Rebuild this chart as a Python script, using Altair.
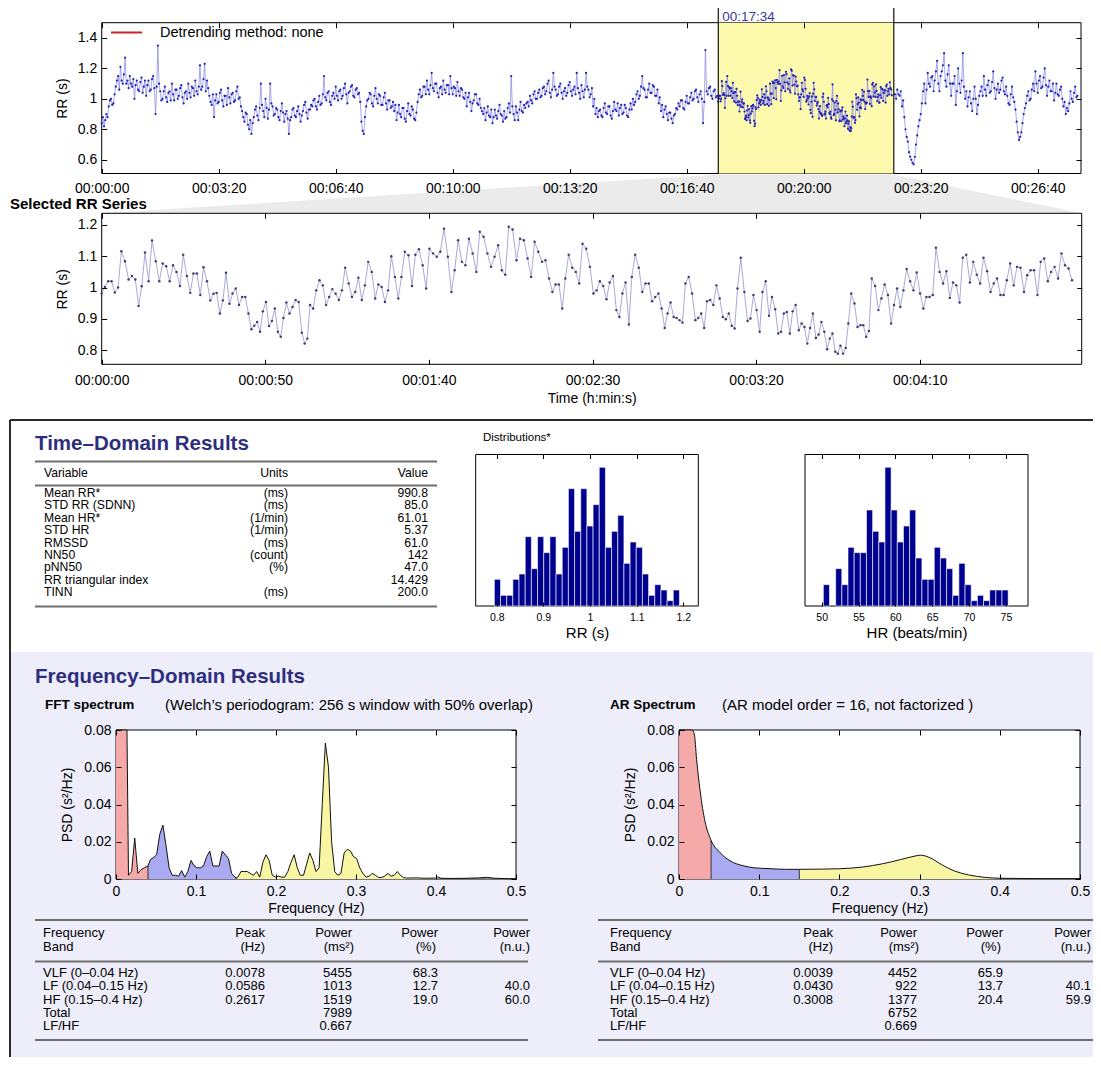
import altair as alt
import pandas as pd
import numpy as np

W, H, M = 1085, 1049, 8
FONT = "Liberation Sans"

# ---------------- DATA ----------------
# whole recording, RR (s) read every 2 s before / after the selected window
top_step = 2
top_rr_before = [
    0.84, 0.88, 0.82, 0.86, 0.90, 0.88, 0.95, 0.99, 1.00, 0.96, 0.97, 1.03,
    1.08, 1.12, 1.15, 1.06, 1.21, 1.12, 1.10, 1.16, 1.27, 1.10,
    1.12, 1.07, 1.15, 1.10, 1.08, 1.13, 1.00, 1.09, 1.12, 1.06,
    1.05, 1.11, 1.14, 1.04, 1.08, 1.12, 1.02, 1.09, 1.12, 1.05, 1.06, 1.13, 1.15, 1.07,
    0.90, 1.08, 1.35, 1.10, 1.05, 0.99,
    1.00, 1.05, 1.08, 1.01, 0.98, 1.04, 1.05, 0.99, 1.10, 1.03, 0.99, 1.06, 1.06, 1.00, 1.02, 1.07,
    1.09, 1.01, 0.97, 1.04, 1.05, 1.00, 1.10, 1.04, 1.01, 1.08, 1.07, 1.02, 1.12, 1.05, 1.03, 1.08,
    1.22, 1.06, 1.08, 1.13, 1.23, 1.05, 1.12, 1.07,
    1.02, 0.98, 0.96, 1.03, 0.88, 0.99, 1.03, 0.97, 0.98, 1.04, 1.06, 0.99, 0.95, 1.02,
    1.02, 0.96, 1.07, 1.01, 0.97, 1.03, 1.04, 0.98, 0.99, 1.05, 1.08, 1.00, 1.01, 0.95,
    0.92, 0.88, 0.85, 0.91, 0.90, 0.83, 0.80, 0.86, 0.77, 0.84,
    0.88, 0.93, 0.95, 0.89, 0.86, 0.94, 1.10, 0.96, 0.92, 0.88, 1.00, 0.94, 0.87, 0.93, 1.10, 0.97, 0.95, 0.89, 0.90, 0.94,
    0.93, 0.88, 0.86, 0.92, 0.97, 0.91, 0.85, 0.90, 0.92, 0.87, 0.77, 0.86, 0.88, 0.93, 0.94, 0.89,
    0.88, 0.92, 0.95, 0.90, 0.85, 0.89, 0.92, 0.96, 0.98, 0.91, 0.87, 0.93, 0.93, 0.96,
    0.95, 0.99, 1.00, 0.95, 0.93, 0.98, 1.02, 0.96, 0.97, 1.03, 1.15, 1.01, 0.99, 1.04, 1.05, 0.98, 0.96, 1.02, 1.04, 1.00,
    1.08, 1.02, 0.99, 1.05, 1.06, 1.00, 1.02, 1.07, 1.10, 1.03, 0.97, 1.04, 1.05, 1.08, 1.09, 1.02, 1.01, 1.06, 1.07, 1.03,
    1.04, 0.98, 0.85, 0.79, 0.77, 0.88, 0.95, 0.99, 1.00, 1.04,
    1.03, 0.97, 0.95, 1.02, 1.07, 1.00, 0.97, 1.03, 1.02, 0.96,
    0.96, 1.01, 1.04, 0.97, 0.93, 0.99, 0.99, 0.94, 0.95, 0.98,
    0.92, 0.96, 0.86, 0.91, 0.96, 0.90, 0.88, 0.94, 0.94, 0.87, 0.85, 0.92, 0.97, 0.90, 0.89, 0.95, 0.93, 0.87, 0.86, 0.91,
    0.98, 1.03, 1.06, 1.01, 1.02, 1.08,
    1.08, 1.03, 1.12, 1.06, 1.03, 1.09, 1.17, 1.07, 1.05, 1.10, 1.10, 1.04, 1.01, 1.07, 1.08, 1.03, 1.12,
    1.06, 1.04, 1.09, 1.09, 1.03, 1.15, 1.07, 1.03, 1.08, 1.07, 1.02, 1.11, 1.05, 1.02, 1.07, 1.06, 1.01,
    1.00, 1.04, 0.95, 1.01, 1.04, 0.98, 0.92, 0.97, 0.99, 1.03, 1.03, 0.97, 0.96, 1.00, 0.94, 0.92,
    0.90, 0.94, 0.86, 0.91, 0.95, 0.89, 0.88, 0.93, 0.84, 0.88, 0.93, 0.89, 0.87, 0.92, 0.96, 0.90, 0.89, 0.85,
    0.92, 0.87, 0.88, 0.94, 0.97, 0.91, 1.15, 0.95, 0.90, 0.86, 0.95, 0.91, 0.86, 0.93, 0.98, 0.92, 0.91, 0.96, 0.94, 0.97,
    0.98, 0.95, 1.02, 0.99, 0.97, 1.03, 1.05, 1.00, 1.00, 1.04, 1.06, 1.01, 1.02, 1.07, 1.08, 1.03,
    1.05, 1.10, 1.12, 1.04, 1.01, 1.06, 1.17, 1.08, 1.06, 1.02, 1.03, 1.08, 1.10, 1.04, 1.00, 1.05, 1.07, 1.02, 1.04, 1.09,
    1.11, 1.05, 1.02, 1.06, 1.08, 1.03, 1.17, 1.07, 1.04, 1.00, 1.09, 1.05, 1.01, 1.06, 1.17, 1.08, 1.06, 1.01, 1.03, 1.07,
    0.95, 1.00, 0.90, 0.94, 0.88, 0.92,
    0.93, 0.89, 0.88, 0.94, 0.97, 0.91, 0.90, 0.95, 0.95, 0.89, 0.87, 0.92, 0.98, 0.93,
    0.92, 0.97, 0.89, 0.94, 0.96, 0.90, 0.91, 0.96, 0.94, 0.89, 0.88, 0.93, 0.97, 0.93,
    1.00, 0.96, 0.98, 1.03, 1.05, 1.00, 1.02, 1.08, 1.15, 1.07, 1.06, 1.01, 1.01, 1.06, 1.10, 1.04, 1.04, 1.09, 1.08, 1.02, 1.02, 1.06,
    0.97, 1.01, 0.92, 0.96, 0.88, 0.93, 0.95, 0.90, 0.86, 0.91, 0.91, 0.87, 0.84, 0.89, 0.90, 0.94, 0.93, 0.97,
    0.95, 0.99, 0.99, 0.94, 0.93, 0.98, 1.02, 0.97, 0.97, 1.01, 1.04, 0.99, 1.00, 1.05, 1.06, 1.01, 0.98, 1.03, 1.05, 1.00,
    0.84, 0.98, 1.32, 1.05,
    1.03, 1.07, 1.08, 1.02, 1.00, 1.05, 1.06, 1.01, 1.02,
]
top_rr_after_start = 1356
top_rr_after = [
    1.03, 1.00, 1.06, 1.03, 1.02, 1.05, 0.95, 0.99,
    0.88, 0.80, 0.75, 0.72, 0.65, 0.62, 0.60, 0.58, 0.57, 0.62,
    0.70, 0.76, 0.82, 0.86, 0.90, 0.97,
    1.05, 1.10, 0.97, 1.06, 1.17, 1.10, 1.08, 1.14, 1.15, 1.05,
    1.12, 1.18, 1.25, 1.10, 1.05, 1.15, 1.18, 1.22, 1.30, 1.12, 1.08, 1.16, 1.22, 1.10, 1.02, 1.10,
    1.10, 1.15, 0.96, 1.05, 1.20, 1.10, 1.04, 1.12, 1.30, 1.08, 1.00, 1.05,
    0.95, 1.01, 1.05, 0.97, 0.92, 1.00, 1.08, 1.00, 0.90, 0.96, 1.02, 1.05,
    1.08, 1.02, 1.15, 1.06, 1.02, 1.09, 1.12, 1.04, 1.05, 1.11, 1.18, 1.07, 1.00, 1.06, 1.10, 1.04,
    1.06, 1.12, 1.14, 1.05, 1.03, 1.08,
    1.02, 0.97, 0.96, 1.03, 1.08, 1.01, 0.98, 0.93,
    0.85, 0.78, 0.73, 0.75, 0.78, 0.84,
    0.90, 0.94, 0.97, 1.02, 1.05, 0.99, 1.00, 1.06,
    1.10, 1.05, 1.18, 1.10, 1.04, 1.12, 1.15, 1.07, 1.08, 1.14, 1.20, 1.09, 1.02, 1.08, 1.12, 1.05,
    1.05, 1.10, 0.99, 1.04, 1.10, 1.03, 1.02, 1.06, 1.08, 1.00,
    0.95, 0.98, 0.90, 0.94, 0.92, 0.97,
    1.05, 1.00, 0.98, 1.04, 1.08, 1.01, 1.02,
]
# selected window: beat-by-beat RR (s)
sel_start = 1054
sel_length = 300
sel_rr = [
    0.981, 1.002, 1.020, 1.020, 0.984, 1.000, 1.116, 1.084, 1.026, 1.037,
    1.026, 0.941, 1.004, 1.112, 1.020, 1.150, 1.084, 1.020, 1.077, 1.068,
    1.020, 1.071, 1.050, 1.005, 1.105, 1.037, 0.983, 1.045, 1.045, 0.976,
    1.065, 1.020, 0.959, 0.980, 0.983, 0.917, 0.959, 1.047, 0.948, 0.981,
    0.997, 0.944, 0.970, 0.970, 0.917, 0.867, 0.878, 0.890, 0.859, 0.924,
    0.954, 0.877, 0.893, 0.933, 0.859, 0.843, 0.903, 0.952, 0.917, 0.938,
    0.960, 0.954, 0.856, 0.821, 0.837, 0.944, 0.933, 0.991, 1.023, 1.007,
    0.944, 0.970, 0.995, 0.980, 0.960, 0.991, 1.063, 1.013, 0.970, 0.986,
    1.031, 0.960, 1.007, 1.082,
    1.050, 0.965, 1.010, 1.002, 0.954, 0.991, 1.100, 1.034, 0.965, 1.034,
    1.114, 1.103, 1.005, 1.105, 1.122, 1.071, 0.997, 1.124, 1.109, 1.098,
    1.114, 1.188, 1.098, 0.986, 1.055, 1.151, 1.082, 1.071, 1.156, 1.109,
    1.050, 1.178, 1.162, 1.109, 1.066, 1.098, 1.135, 1.055, 1.041, 1.194,
    1.185, 1.087, 1.156, 1.151, 1.093, 1.034, 1.146, 1.114, 1.082, 1.087,
    1.029, 0.986, 1.010, 1.010, 0.933, 1.029, 1.105, 1.063, 1.050, 1.013,
    1.140, 1.124, 1.066, 0.981, 0.991, 1.020, 1.005, 0.963, 1.016, 1.037,
    0.928, 0.906, 0.981, 1.016, 0.882, 1.034, 1.105, 1.063, 0.986, 1.013,
    1.013, 0.956, 0.970, 0.981, 0.933, 0.871, 0.917, 0.952, 0.906, 0.903,
    0.896, 0.888, 1.013, 1.034, 0.981, 0.896, 0.903, 0.917, 0.871, 0.956,
    0.960, 0.944, 1.007, 0.965, 0.906,
    0.899, 0.917, 0.878, 0.869, 0.997, 1.095, 0.986, 0.893, 0.901, 0.976,
    0.928, 0.859, 0.986, 1.020, 0.910, 0.970, 0.931, 0.853, 0.859, 0.917,
    0.922, 0.853, 0.924, 0.944, 0.864, 0.885, 0.874, 0.821, 0.871, 0.917,
    0.839, 0.850, 0.890, 0.859, 0.803, 0.837, 0.853, 0.795, 0.789, 0.814,
    0.789, 0.807, 0.885, 0.981, 0.949, 0.874, 0.880, 0.880, 0.843, 0.861,
    1.029, 1.005, 0.928, 0.965, 1.010, 0.976, 0.885, 0.944, 0.997, 0.938,
    0.991, 1.059, 1.020, 0.991, 1.048, 0.981, 0.933, 0.970, 0.970, 0.976,
    1.127, 1.050, 1.013, 1.052, 0.967, 1.016, 1.007, 0.952, 1.095, 1.105,
    1.016, 1.082, 1.041, 1.013, 1.095, 1.052, 0.986, 1.013, 1.029, 0.976,
    0.976, 1.023, 1.077, 1.007, 1.066, 1.063, 0.986, 1.039, 1.055, 1.055,
    0.976, 1.082, 1.093, 1.020, 1.050, 1.066, 1.029, 1.109, 1.071, 1.061,
    1.023,
]

# histograms
rr_hist_start, rr_hist_bin = 0.795, 0.01322
rr_hist_counts = [5, 2, 2, 5, 6, 13, 7, 13, 10, 13, 6, 11, 22, 14, 22, 15, 19, 26, 11, 14,
                  17, 8, 12, 11, 6, 2, 4, 3, 1, 3]
hr_hist_start, hr_hist_bin = 50.23, 0.836
hr_hist_counts = [4, 0, 7, 4, 11, 10, 10, 18, 14, 12, 26, 18, 12, 15, 18, 9, 5, 5, 11, 9,
                  7, 2, 8, 4, 1, 2, 1, 3, 3, 3]

# spectra
fft_freq = [0.0000, 0.0039, 0.0078, 0.0117, 0.0137, 0.0156, 0.0195, 0.0234, 0.0273, 0.0312, 0.0352, 0.0400,
            0.0430, 0.0469, 0.0508, 0.0547, 0.0586, 0.0625, 0.0664, 0.0703, 0.0742, 0.0781,
            0.0820, 0.0859, 0.0898, 0.0938, 0.0977, 0.1016, 0.1055, 0.1094, 0.1133, 0.1172,
            0.1211, 0.1250, 0.1289, 0.1328, 0.1367, 0.1406, 0.1445, 0.1500,
            0.1523, 0.1562, 0.1602, 0.1641, 0.1680, 0.1719, 0.1758, 0.1797, 0.1836, 0.1875,
            0.1914, 0.1953, 0.1992, 0.2031, 0.2070, 0.2109, 0.2148, 0.2188, 0.2227, 0.2266,
            0.2305, 0.2344, 0.2383, 0.2422, 0.2461, 0.2500, 0.2539, 0.2578, 0.2617, 0.2656,
            0.2695, 0.2734, 0.2773, 0.2812, 0.2852, 0.2891, 0.2930, 0.2969, 0.3008, 0.3047,
            0.3086, 0.3125, 0.3164, 0.3203, 0.3242, 0.3281, 0.3320, 0.3359, 0.3398, 0.3438,
            0.3477, 0.3516, 0.3555, 0.3594, 0.3633, 0.3750, 0.3867, 0.4000,
            0.4023, 0.4062, 0.4219, 0.4375, 0.4531, 0.4648, 0.4727, 0.4883, 0.5000]
fft_psd = [0.35, 0.45, 0.50, 0.25, 0.08, 0.002, 0.004, 0.022, 0.003, 0.005, 0.006, 0.007,
           0.0105, 0.0115, 0.013, 0.024, 0.029, 0.018, 0.006, 0.002, 0.002, 0.0015,
           0.0045, 0.001, 0.004, 0.010, 0.007, 0.006, 0.006, 0.007, 0.012, 0.015,
           0.007, 0.007, 0.007, 0.015, 0.013, 0.011, 0.003, 0.0005,
           0.001, 0.004, 0.004, 0.004, 0.003, 0.002, 0.004, 0.001, 0.009, 0.013,
           0.010, 0.002, 0.001, 0.0015, 0.001, 0.001, 0.004, 0.009, 0.013, 0.006,
           0.002, 0.002, 0.008, 0.014, 0.010, 0.004, 0.006, 0.040, 0.073, 0.060,
           0.020, 0.004, 0.002, 0.003, 0.014, 0.016, 0.015, 0.012, 0.011, 0.006,
           0.003, 0.001, 0.0015, 0.003, 0.002, 0.0008, 0.0008, 0.0015, 0.003, 0.0015,
           0.002, 0.004, 0.002, 0.0008, 0.0005, 0.0006, 0.0004, 0.0005,
           0.0012, 0.0004, 0.0003, 0.0004, 0.0006, 0.0009, 0.0004, 0.0002, 0.0001]
ar_freq = [0.000, 0.004, 0.008, 0.012, 0.016, 0.019, 0.022, 0.025, 0.028, 0.031, 0.034, 0.037, 0.040,
           0.045, 0.050, 0.055, 0.060, 0.068, 0.075, 0.081, 0.094, 0.111, 0.133, 0.150,
           0.176, 0.200, 0.2285, 0.254, 0.276, 0.293, 0.3008, 0.314, 0.327, 0.344, 0.361, 0.383, 0.400,
           0.450, 0.500]
ar_psd = [0.90, 0.50, 0.25, 0.15, 0.095, 0.078, 0.064, 0.052, 0.042, 0.034, 0.028, 0.024, 0.0207,
          0.017, 0.0148, 0.0125, 0.0108, 0.0088, 0.0077, 0.007, 0.006, 0.0056, 0.0052, 0.0052,
          0.0053, 0.0055, 0.0064, 0.0082, 0.0104, 0.0122, 0.0128, 0.0112, 0.0078, 0.0042, 0.0022, 0.0008, 0.0004,
          0.0002, 0.0002]
band_names = ["VLF", "LF", "HF"]
band_limits = [(0.0, 0.04), (0.04, 0.15), (0.15, 0.4)]
band_colors = ["#f6a9a9", "#aaaaf2", "#f8f6a2"]

# tables
td_variables = ["Mean RR*", "STD RR (SDNN)", "Mean HR*", "STD HR", "RMSSD", "NN50", "pNN50",
                "RR triangular index", "TINN"]
td_units = ["(ms)", "(ms)", "(1/min)", "(1/min)", "(ms)", "(count)", "(%)", "", "(ms)"]
td_values = ["990.8", "85.0", "61.01", "5.37", "61.0", "142", "47.0", "14.429", "200.0"]

fd_bands = ["VLF (0–0.04 Hz)", "LF (0.04–0.15 Hz)", "HF (0.15–0.4 Hz)", "Total", "LF/HF"]
fft_peak = ["0.0078", "0.0586", "0.2617", "", ""]
fft_power = ["5455", "1013", "1519", "7989", "0.667"]
fft_pct = ["68.3", "12.7", "19.0", "", ""]
fft_nu = ["", "40.0", "60.0", "", ""]
ar_peak = ["0.0039", "0.0430", "0.3008", "", ""]
ar_power = ["4452", "922", "1377", "6752", "0.669"]
ar_pct = ["65.9", "13.7", "20.4", "", ""]
ar_nu = ["", "40.1", "59.9", "", ""]

# ---------------- LAYOUT (page pixels) ----------------
TOP = dict(x0=101.7, x1=1081, y0=22.7, y1=173.5, xdom=[0, 1674], ydom=[0.51, 1.5],
           xt=list(range(0, 1601, 200)), yt=[0.6, 0.8, 1.0, 1.2, 1.4])
SEL = dict(x0=101.7, x1=1081.7, y0=213.3, y1=364.3, xdom=[0, 299.5], ydom=[0.755, 1.237],
           xt=list(range(0, 251, 50)), yt=[0.8, 0.9, 1.0, 1.1, 1.2])
HRR = dict(x0=475.7, x1=698.3, y0=454.5, y1=606, xdom=[0.755, 1.232], ydom=[0, 28.4],
           xt=[0.8, 0.9, 1.0, 1.1, 1.2], yt=[])
HHR = dict(x0=805, x1=1028, y0=454.5, y1=606, xdom=[47.74, 78.0], ydom=[0, 28.4],
           xt=[50, 55, 60, 65, 70, 75], yt=[])
FFT = dict(x0=116, x1=516, y0=730, y1=879, xdom=[0, 0.5], ydom=[0, 0.08],
           xt=[0, 0.1, 0.2, 0.3, 0.4, 0.5], yt=[0, 0.02, 0.04, 0.06, 0.08])
ARP = dict(x0=679, x1=1080, y0=730, y1=879, xdom=[0, 0.5], ydom=[0, 0.08],
           xt=[0, 0.1, 0.2, 0.3, 0.4, 0.5], yt=[0, 0.02, 0.04, 0.06, 0.08])

TIME_EXPR = "utcFormat(datum.value*1000, '%H:%M:%S')"


def xscale(p, **kw):
    return alt.Scale(domain=p['xdom'], range=[p['x0'] - M, p['x1'] - M], nice=False, zero=False, **kw)


def yscale(p, **kw):
    return alt.Scale(domain=p['ydom'], range=[p['y1'] - M, p['y0'] - M], nice=False, zero=False, **kw)


def common_axis():
    return dict(grid=False, zindex=1, domain=False, labelFont=FONT, titleFont=FONT,
                labelColor='black', titleColor='black', tickColor='black',
                labelFlush=False, labelOverlap=False, titleFontWeight='normal')


def label_axes(p, lfs=14, xlp=6, ylp=5, xexpr=None, xtitle=None, ytitle=None,
               tfs=14, xtp=4, ytp=8):
    kx = common_axis()
    kx.update(orient='bottom', offset=(p['y1'] - M) - H, values=p['xt'], ticks=False,
              labelPadding=xlp, labelFontSize=lfs)
    if xexpr:
        kx['labelExpr'] = xexpr
    else:
        kx['format'] = '~g'
    if xtitle:
        kx.update(title=xtitle, titleFontSize=tfs, titlePadding=xtp)
    else:
        kx['title'] = None
    xa = alt.Axis(**kx)
    ya = None
    if p['yt']:
        ky = common_axis()
        ky.update(orient='left', offset=-(p['x0'] - M), values=p['yt'], ticks=False,
                  labelPadding=ylp, labelFontSize=lfs, format='~g')
        if ytitle:
            ky.update(title=ytitle, titleFontSize=tfs, titlePadding=ytp)
        else:
            ky['title'] = None
        ya = alt.Axis(**ky)
    return xa, ya


def frame_df(p):
    return pd.DataFrame({'x': [p['xdom'][0]], 'x2': [p['xdom'][1]],
                         'y': [p['ydom'][0]], 'y2': [p['ydom'][1]]})


def frame_layer(p, xa, ya):
    return alt.Chart(frame_df(p)).mark_rect(fill='white', stroke='black', strokeWidth=1).encode(
        x=alt.X('x:Q', scale=xscale(p), axis=xa), x2='x2:Q',
        y=alt.Y('y:Q', scale=yscale(p), axis=ya), y2='y2:Q')


def tick_layers(p, size=5):
    out = []
    for xo, xoff, yo, yoff in [
        ('top', -(p['y1'] - M), 'right', (p['x0'] - M) - W),
        ('bottom', (p['y0'] - M) - H, 'left', -(p['x1'] - M)),
    ]:
        kx = common_axis()
        kx.update(orient=xo, offset=xoff, values=p['xt'], labels=False, tickSize=size, title=None)
        ya = None
        if p['yt']:
            ky = common_axis()
            ky.update(orient=yo, offset=yoff, values=p['yt'], labels=False, tickSize=size, title=None)
            ya = alt.Axis(**ky)
        out.append(alt.Chart(frame_df(p)).mark_rect(opacity=0).encode(
            x=alt.X('x:Q', scale=xscale(p), axis=alt.Axis(**kx)), x2='x2:Q',
            y=alt.Y('y:Q', scale=yscale(p), axis=ya), y2='y2:Q'))
    return out


def px(v):
    return v - M


def texts(items, size=13, weight='normal', align='left', color='black', angle=0):
    df = pd.DataFrame({'x': [px(a) for a, b, c in items], 'y': [px(b) for a, b, c in items],
                       't': [c for a, b, c in items]})
    return alt.Chart(df).mark_text(font=FONT, fontSize=size, fontWeight=weight, align=align,
                                   baseline='middle', color=color, angle=angle).encode(
        x=alt.X('x:Q', scale=None, axis=None), y=alt.Y('y:Q', scale=None, axis=None), text='t:N')


def hrules(items, color='#6e6e6e', width=2):
    df = pd.DataFrame({'x': [px(a) for a, b, c in items], 'x2': [px(b) for a, b, c in items],
                       'y': [px(c) for a, b, c in items]})
    return alt.Chart(df).mark_rule(color=color, strokeWidth=width).encode(
        x=alt.X('x:Q', scale=None, axis=None), x2='x2:Q', y=alt.Y('y:Q', scale=None, axis=None))


def vrules(items, color='#222222', width=2):
    df = pd.DataFrame({'x': [px(a) for a, b, c in items], 'y': [px(b) for a, b, c in items],
                       'y2': [px(c) for a, b, c in items]})
    return alt.Chart(df).mark_rule(color=color, strokeWidth=width).encode(
        x=alt.X('x:Q', scale=None, axis=None), y=alt.Y('y:Q', scale=None, axis=None), y2='y2:Q')


def rects(items, fill):
    df = pd.DataFrame({'x': [px(r[0]) for r in items], 'x2': [px(r[2]) for r in items],
                       'y': [px(r[1]) for r in items], 'y2': [px(r[3]) for r in items]})
    return alt.Chart(df).mark_rect(fill=fill).encode(
        x=alt.X('x:Q', scale=None, axis=None), x2='x2:Q',
        y=alt.Y('y:Q', scale=None, axis=None), y2='y2:Q')


layers = []

# ---- backgrounds ----
layers.append(rects([(10, 652, 1101, 1065)], '#eeeefa'))
sel_end = sel_start + sel_length
kx = (TOP['x1'] - TOP['x0']) / (TOP['xdom'][1] - TOP['xdom'][0])
conn = pd.DataFrame({
    'y': [px(TOP['y1'] + 1), px(SEL['y0'])],
    'x': [px(TOP['x0'] + sel_start * kx), px(SEL['x0'])],
    'x2': [px(TOP['x0'] + sel_end * kx), px(SEL['x1'])]})
layers.append(alt.Chart(conn).mark_area(orient='horizontal', color='#ebebeb').encode(
    y=alt.Y('y:Q', scale=None, axis=None), x=alt.X('x:Q', scale=None, axis=None), x2='x2:Q'))

# ---- top RR plot ----
sel_times = np.concatenate([[0.0], np.cumsum(sel_rr)[:-1]])
top_t = ([i * top_step for i in range(len(top_rr_before))] +
         [sel_start + t for t in sel_times] +
         [top_rr_after_start + i * top_step for i in range(len(top_rr_after))])
top_df = pd.DataFrame({'t': top_t, 'rr': top_rr_before + sel_rr + top_rr_after})

xa, ya = label_axes(TOP, xlp=8, xexpr=TIME_EXPR, ytitle='RR (s)')
layers.append(frame_layer(TOP, xa, ya))
sel_df = pd.DataFrame({'x': [sel_start], 'x2': [sel_end], 'y': [TOP['ydom'][0]], 'y2': [TOP['ydom'][1]]})
layers.append(alt.Chart(sel_df).mark_rect(fill='#fdfaae').encode(
    x=alt.X('x:Q', scale=xscale(TOP), axis=None), x2='x2:Q',
    y=alt.Y('y:Q', scale=yscale(TOP), axis=None), y2='y2:Q'))
layers.append(alt.Chart(top_df).mark_line(color='#8282e2', strokeWidth=0.7).encode(
    x=alt.X('t:Q', scale=xscale(TOP), axis=None), y=alt.Y('rr:Q', scale=yscale(TOP), axis=None)))
layers.append(alt.Chart(top_df).mark_circle(color='#2222b8', size=5, opacity=1).encode(
    x=alt.X('t:Q', scale=xscale(TOP), axis=None), y=alt.Y('rr:Q', scale=yscale(TOP), axis=None)))
edge_df = pd.DataFrame({'x': [sel_start, sel_end]})
layers.append(alt.Chart(edge_df).mark_rule(color='#111111', strokeWidth=1.2).encode(
    x=alt.X('x:Q', scale=xscale(TOP), axis=None), y=alt.value(px(8)), y2=alt.value(px(TOP['y1']))))
sel_label = "%02d:%02d:%02d" % (sel_start // 3600, (sel_start // 60) % 60, sel_start % 60)
layers.append(alt.Chart(pd.DataFrame({'x': [sel_start], 't': [sel_label]})).mark_text(
    font=FONT, fontSize=13.5, align='left', baseline='middle', color='#3b3b9a', dx=4).encode(
    x=alt.X('x:Q', scale=xscale(TOP), axis=None), y=alt.value(px(17)), text='t:N'))
layers += tick_layers(TOP)
layers.append(hrules([(111, 142, 32.5)], color='#d02020', width=2))
layers.append(texts([(160, 33, 'Detrending method: none')], size=14.5))

# ---- selected RR series ----
sdf = pd.DataFrame({'t': sel_times, 'rr': sel_rr})
xa, ya = label_axes(SEL, xlp=9, xexpr=TIME_EXPR, xtitle='Time (h:min:s)', ytitle='RR (s)', xtp=4)
layers.append(frame_layer(SEL, xa, ya))
layers.append(alt.Chart(sdf).mark_line(color='#a9a9da', strokeWidth=1).encode(
    x=alt.X('t:Q', scale=xscale(SEL), axis=None), y=alt.Y('rr:Q', scale=yscale(SEL), axis=None)))
layers.append(alt.Chart(sdf).mark_circle(color='#3c3c6e', size=6, opacity=1).encode(
    x=alt.X('t:Q', scale=xscale(SEL), axis=None), y=alt.Y('rr:Q', scale=yscale(SEL), axis=None)))
layers += tick_layers(SEL)
layers.append(texts([(10, 204, 'Selected RR Series')], size=15, weight='bold'))

# ---- section border ----
layers.append(hrules([(10, 1101, 420)], color='#2a2a2a', width=2))
layers.append(vrules([(10, 420, 1065)], color='#2a2a2a', width=2))

# ---- time-domain table ----
layers.append(texts([(35, 444, 'Time–Domain Results')], size=20.5, weight='bold', color='#2e2e7e'))
layers.append(hrules([(35, 437, 461.5), (35, 437, 485.5), (35, 437, 606.5)]))
row_y = [493 + 12.4 * i for i in range(len(td_variables))]
layers.append(texts([(44, 473, 'Variable')] + [(44, y, v) for y, v in zip(row_y, td_variables)], size=12.2))
layers.append(texts([(288, 473, 'Units')] + [(288, y, v) for y, v in zip(row_y, td_units) if v] +
                    [(428, 473, 'Value')] + [(428, y, v) for y, v in zip(row_y, td_values)],
                    size=12.2, align='right'))

# ---- histograms ----
layers.append(texts([(483, 438, 'Distributions*')], size=11.5))
for p, start, binw, counts, title in [
        (HRR, rr_hist_start, rr_hist_bin, rr_hist_counts, 'RR (s)'),
        (HHR, hr_hist_start, hr_hist_bin, hr_hist_counts, 'HR (beats/min)')]:
    hdf = pd.DataFrame({'lo': [start + i * binw for i in range(len(counts))],
                        'hi': [start + (i + 1) * binw for i in range(len(counts))],
                        'n': counts, 'z': [0] * len(counts)})
    hdf = hdf[hdf['n'] > 0]
    xa, ya = label_axes(p, lfs=10.5, xlp=6, xtitle=title, tfs=15, xtp=3)
    layers.append(frame_layer(p, xa, None))
    layers.append(alt.Chart(hdf).mark_rect(color='#000090', stroke='#ffffff', strokeWidth=0.6).encode(
        x=alt.X('lo:Q', scale=xscale(p), axis=None), x2='hi:Q',
        y=alt.Y('n:Q', scale=yscale(p), axis=None), y2='z:Q'))
    layers += tick_layers(p, size=4)

# ---- frequency-domain ----
layers.append(texts([(35, 677, 'Frequency–Domain Results')], size=20.5, weight='bold', color='#2e2e7e'))
layers.append(texts([(45, 705, 'FFT spectrum'), (610, 705, 'AR Spectrum')], size=13.5, weight='bold'))
layers.append(texts([(165, 705, '(Welch’s periodogram: 256 s window with 50% overlap)'),
                     (722, 705, '(AR model order = 16, not factorized )')], size=15))


def band_frame(freq, psd):
    rows = []
    for name, (lo, hi) in zip(band_names, band_limits):
        for f, v in zip(freq, psd):
            if lo <= f <= hi:
                rows.append({'f': f, 'psd': v, 'band': name})
    return pd.DataFrame(rows)


for p, freq, psd, interp in [(FFT, fft_freq, fft_psd, 'linear'), (ARP, ar_freq, ar_psd, 'monotone')]:
    xa, ya = label_axes(p, xlp=5, xtitle='Frequency (Hz)', ytitle='PSD (s²/Hz)', xtp=3, ytp=9)
    layers.append(frame_layer(p, xa, ya))
    bdf = band_frame(freq, psd)
    layers.append(alt.Chart(bdf).mark_area(opacity=1, interpolate=interp).encode(
        x=alt.X('f:Q', scale=xscale(p), axis=None),
        y=alt.Y('psd:Q', scale=yscale(p, clamp=True), axis=None, stack=None),
        color=alt.Color('band:N', scale=alt.Scale(domain=band_names, range=band_colors), legend=None)))
    bounds = pd.DataFrame({'f': [f for f in freq if f in (0.04, 0.15)],
                           'psd': [v for f, v in zip(freq, psd) if f in (0.04, 0.15)],
                           'z': 0.0})
    layers.append(alt.Chart(bounds).mark_rule(color='#333333', strokeWidth=1).encode(
        x=alt.X('f:Q', scale=xscale(p), axis=None),
        y=alt.Y('z:Q', scale=yscale(p, clamp=True), axis=None), y2='psd:Q'))
    ldf = pd.DataFrame({'f': freq, 'psd': psd})
    layers.append(alt.Chart(ldf).mark_line(color='#111111', strokeWidth=1, interpolate=interp).encode(
        x=alt.X('f:Q', scale=xscale(p), axis=None),
        y=alt.Y('psd:Q', scale=yscale(p, clamp=True), axis=None)))
    layers += tick_layers(p)

# ---- frequency-domain tables ----
rows_y = [973 + 13.3 * i for i in range(len(fd_bands))]
for x_band, x_peak, x_pow, x_pct, x_nu, r0, r1, peak, power, pct, nu in [
        (43, 265, 352, 438, 530, 35, 528, fft_peak, fft_power, fft_pct, fft_nu),
        (610, 833, 917, 1003, 1091, 598, 1097, ar_peak, ar_power, ar_pct, ar_nu)]:
    layers.append(hrules([(r0, r1, 920), (r0, r1, 961.5), (r0, r1, 1040)]))
    layers.append(texts([(x_band, 933, 'Frequency'), (x_band, 947, 'Band')] +
                        [(x_band, y, b) for y, b in zip(rows_y, fd_bands)], size=13))
    right = [(x_peak, 933, 'Peak'), (x_peak, 947, '(Hz)'),
             (x_pow, 933, 'Power'), (x_pow + 2, 947, '(ms²)'),
             (x_pct, 933, 'Power'), (x_pct - 2, 947, '(%)'),
             (x_nu, 933, 'Power'), (x_nu, 947, '(n.u.)')]
    for col_x, vals in [(x_peak, peak), (x_pow, power), (x_pct, pct), (x_nu, nu)]:
        right += [(col_x, y, v) for y, v in zip(rows_y, vals) if v]
    layers.append(texts(right, size=13, align='right'))

chart = alt.layer(*layers).resolve_scale(
    x='independent', y='independent', color='independent'
).resolve_axis(x='independent', y='independent').properties(
    width=W, height=H, padding=0, autosize=alt.AutoSizeParams(type='none')
).configure(font=FONT, background='white').configure_view(stroke=None)

chart.save("out.html", embed_options={"renderer": "svg", "actions": False})
